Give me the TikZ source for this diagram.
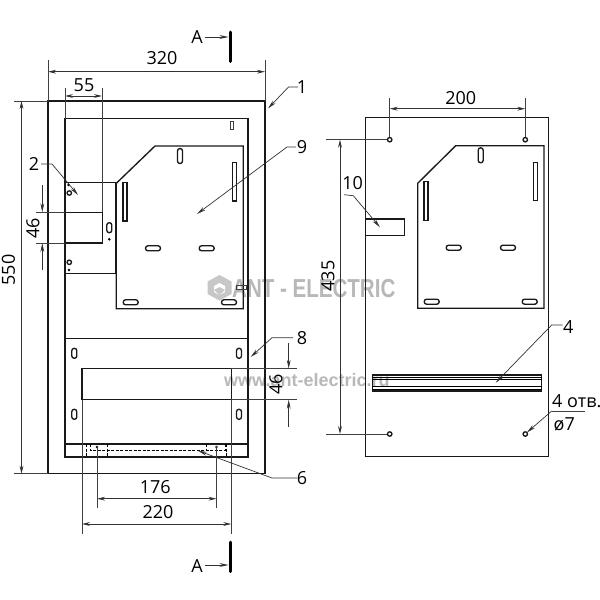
\documentclass[tikz,border=0pt]{standalone}
\usepackage{fontspec}
\setmainfont{Open Sans}
\newfontfamily\markfont{Liberation Sans}
\usetikzlibrary{arrows.meta}
\tikzset{
	body/.style={line width=1.35pt, color=black!90},
	thinline/.style={line width=0.7pt, color=black!75},
	dimline/.style={line width=0.7pt, color=black!80, {Stealth[length=8pt,width=3.8pt]}-{Stealth[length=8pt,width=3.8pt]}},
	leader/.style={line width=0.7pt, color=black!80, -{Stealth[length=9pt,width=3.8pt]}},
	cutline/.style={line width=3pt, color=black, line cap=round},
	hidden/.style={line width=0.6pt, dash pattern=on 3pt off 1.5pt},
	numlabel/.style={font=\fontsize{18}{18}\selectfont, inner sep=0pt, text=black},
	watermark/.style={font=\markfont\bfseries, inner sep=0pt, text=black!28}
}
% slots and holes, by centre
\def\slotv(#1,#2){\draw[body, shift={(#1,#2)}, rounded corners=2.4pt] (-2.5,-7.5) rectangle (2.5,7.5);}
\def\slotshort(#1,#2){\draw[body, shift={(#1,#2)}, rounded corners=2.4pt] (-2.5,-5) rectangle (2.5,5);}
\def\sloth(#1,#2){\draw[body, shift={(#1,#2)}, rounded corners=2.4pt] (-7.5,-2.5) rectangle (7.5,2.5);}
\def\slotbar(#1,#2,#3){\draw[body, line width=1.1pt] (#1-2,#2) rectangle (#1+2,#3);}
\def\hole(#1,#2){\draw[body, fill=white] (#1,#2) circle (2.2);}
\def\holedot(#1,#2){\fill[black] (#1,#2) circle (1.4);}

\begin{document}
\begin{tikzpicture}[x=1pt, y=-1pt]
		\useasboundingbox (0,0) rectangle (600,600);
		%%%%% WATERMARK %%%%%
		
		\fill[black!22] (219.5,275) -- (231.5,281.5) -- (231.5,294) -- (219.5,300.5) -- (207.5,294) -- (207.5,281.5) -- cycle;
		\fill[white] (219.5,283) -- (225,286) -- (225,292) -- (219.5,295) -- (214,292) -- (214,286) -- cycle;
		\fill[black!22] (219.5,287) -- (225,290) -- (219.5,295) -- (214,290) -- cycle;
		\node[watermark, anchor=west] (markname) at (232,289) {\scalebox{0.79}[1]{\fontsize{26}{26}\selectfont ANT - ELECTRIC}};
		\node[watermark, anchor=west] (markweb) at (224,380) {\fontsize{18}{18}\selectfont www.ant-electric.ru};
		
		%%%%% FRONT VIEW %%%%%
		
		\draw[body] (48,101) rectangle (265,473.5);
		\draw[body] (65,118.7) rectangle (248,457);
		\draw[body] (65,338.7) -- (248,338.7);
		\draw[body, line width=1.7pt] (65,444) -- (248,444);
		
		% plate
		\draw[body] (116.3,183.3) -- (155,146) -- (243.3,146) -- (243.3,308.7) -- (116.3,308.7) -- cycle;
		\slotv(180,156)
		\slotbar(234.7,162.7,201)
		\slotbar(125,182.7,221)
		\sloth(153,248.3)
		\sloth(206.7,248.3)
		\sloth(130.7,302.3)
		\sloth(229,302.3)
		\draw[thinline] (230.5,121) rectangle (233.5,129);
		\draw[thinline] (236,285) rectangle (246,289);
		
		% box 2
		\draw[body] (65,182.7) -- (115.7,182.7);
		\draw[body] (65,273.3) -- (115.7,273.3);
		\draw[body, line width=2.4pt] (115.7,182.7) -- (115.7,273.3);
		\draw[body] (65,212.3) -- (102.3,212.3) -- (102.3,243) -- (65,243);
		\hole(69.3,193)
		\holedot(68.5,185)
		\hole(69.3,262.3)
		\holedot(69,270)
		\slotshort(109.3,227.7)
		\holedot(109.3,239.3)
		
		% lower panel
		\draw[body] (82,368.7) rectangle (231.3,399.7);
		\slotshort(74.3,353.3)
		\slotshort(239,353.3)
		\slotshort(74.3,414.3)
		\slotshort(239,414.3)
		\draw[hidden] (90,444) -- (90,450) -- (225,450) -- (225,444);
		\draw[hidden] (86.7,444) -- (86.7,457);
		\draw[hidden] (107.3,444) -- (107.3,457);
		\draw[hidden] (206.7,444) -- (206.7,450);
		\draw[hidden] (226.7,444) -- (226.7,457);
		\holedot(97,447)
		\holedot(216.5,447)
		
		% dimensions
		\draw[thinline] (48,60) -- (48,101);
		\draw[thinline] (265,60) -- (265,101);
		\draw[dimline] (48,71.7) -- (265,71.7);
		\node[numlabel] (dimwidth) at (162,58.5) {320};
		
		\draw[thinline] (65,88) -- (65,118.7);
		\draw[thinline] (102,88) -- (102,212.3);
		\draw[dimline] (65,96) -- (102,96);
		\node[numlabel] (dimbox) at (84,85) {55};
		
		\draw[thinline] (14,101) -- (48,101);
		\draw[thinline] (14,473.7) -- (48,473.7);
		\draw[dimline] (21.5,101) -- (21.5,473.7);
		\node[numlabel, rotate=90] (dimheight) at (8.5,270) {550};
		
		\draw[thinline] (36,212.3) -- (65,212.3);
		\draw[thinline] (36,243) -- (65,243);
		\draw[leader] (42.3,185) -- (42.3,212.3);
		\draw[leader] (42.3,270) -- (42.3,243);
		\node[numlabel, rotate=90] (dimcut) at (33,228) {46};
		
		\draw[thinline] (231.3,368.7) -- (297,368.7);
		\draw[thinline] (231.3,399.7) -- (297,399.7);
		\draw[leader] (288.7,343) -- (288.7,368.7);
		\draw[leader] (288.7,426.7) -- (288.7,399.7);
		\node[numlabel, rotate=90] (dimpanel) at (276,384) {46};
		
		\draw[thinline] (97,446) -- (97,508);
		\draw[thinline] (216.5,446) -- (216.5,508);
		\draw[dimline] (97,498.7) -- (216.5,498.7);
		\node[numlabel] (dimholes) at (155.3,486.7) {176};
		
		\draw[thinline] (82,399.7) -- (82,534);
		\draw[thinline] (231.3,399.7) -- (231.3,534);
		\draw[dimline] (82,524) -- (231.3,524);
		\node[numlabel] (dimpanelw) at (158,512) {220};
		
		% section marks
		\draw[cutline] (230,32) -- (230,61.5);
		\node[numlabel] (secttop) at (197,37) {A};
		\draw[leader] (204.7,37) -- (228.5,37);
		\draw[cutline] (230,542) -- (230,571.5);
		\node[numlabel] (sectbot) at (197,566) {A};
		\draw[leader] (204.7,565) -- (228.5,565);
		
		% leaders
		\node[numlabel] (numone) at (302,87.5) {1};
		\draw[leader] (298,87) -- (288.5,87) -- (268,108.5);
		\node[numlabel] (numnine) at (302,147.5) {9};
		\draw[leader] (296,147) -- (287,147) -- (197,214);
		\node[numlabel] (numtwo) at (34,164) {2};
		\draw[leader] (41,164) -- (52,164) -- (78,195);
		\node[numlabel] (numeight) at (302,338) {8};
		\draw[leader] (293,337.7) -- (272,337.7) -- (250.7,357);
		\node[numlabel] (numsix) at (302,478) {6};
		\draw[leader] (297,478) -- (272,478) -- (198,450.7);
		
		%%%%% REAR VIEW %%%%%
		
		\draw[body] (365.7,117.7) rectangle (548.7,456.3);
		\draw[body] (417.7,183.3) -- (455.7,145.7) -- (544,145.7) -- (544,308.3) -- (417.7,308.3) -- cycle;
		\slotv(480.7,155.3)
		\slotbar(535.3,162.3,200.3)
		\slotbar(426,181.7,220.3)
		\sloth(453.7,247.7)
		\sloth(508,247.7)
		\sloth(431.7,301.7)
		\sloth(529.7,301.7)
		\draw[body] (365.7,219) rectangle (404.7,235.3);
		
		% rail
		\draw[body] (372.3,375) rectangle (541.7,391);
		\draw[line width=0.5pt] (372.3,377) -- (541.7,377);
		\draw[line width=1.8pt] (372.3,379.5) -- (541.7,379.5);
		\draw[line width=0.5pt] (372.3,386.7) -- (541.7,386.7);
		\draw[line width=1.8pt] (372.3,389.5) -- (541.7,389.5);
		
		% dimensions
		\draw[thinline] (389.7,98) -- (389.7,137.5);
		\draw[thinline] (525.3,98) -- (525.3,137.5);
		\draw[dimline] (389.7,108.7) -- (525.3,108.7);
		\node[numlabel] (dimtop) at (460.7,97.7) {200};
		
		\draw[thinline] (326,139.7) -- (387.5,139.7);
		\draw[thinline] (326,434) -- (387.5,434);
		\draw[dimline] (340,139.7) -- (340,434);
		\node[numlabel, rotate=90] (dimrear) at (328,276) {435};
		
		\hole(389.7,139.7)
		\hole(525.3,139.7)
		\hole(389.7,434)
		\hole(525.3,434)
		
		\node[numlabel] (numten) at (352.7,182.7) {10};
		\draw[leader] (344,194.7) -- (353.3,195.7) -- (380,227.3);
		\node[numlabel] (numfour) at (568.3,327.3) {4};
		\draw[leader] (562.7,325) -- (551.7,325) -- (495.7,382.7);
		\node[numlabel, anchor=west] (holecount) at (552,401.5) {4 отв.};
		\draw[thinline] (551.7,411) -- (585,411);
		\node[numlabel, anchor=west] (holesize) at (553.5,424) {ø7};
		\coordinate (holetip) at (526.9,432.5);
		\draw[leader] (551.7,411) -- (holetip);
		
		%%%%% END %%%%%
\end{tikzpicture}
\end{document}
